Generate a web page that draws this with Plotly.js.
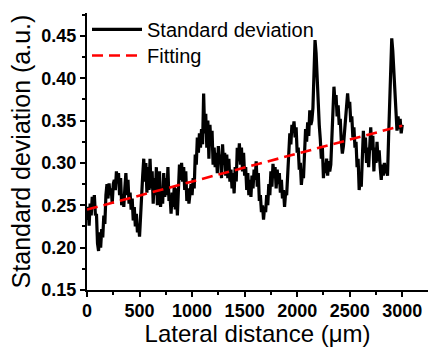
<!DOCTYPE html>
<html>
<head>
<meta charset="utf-8">
<script src="https://cdn.plot.ly/plotly-3.0.1.min.js"></script>
<style>html,body{margin:0;padding:0;background:#fff;}#chart{width:428px;height:347px;}</style>
</head>
<body>
<div id="chart"></div>
<script>
// Lateral distance (µm), sampled every 10 µm
const distance = [];
for (let i = 0; i <= 300; i++) distance.push(i * 10);

// Standard deviation values (a.u.)
const stdDev = [
0.232,0.248,0.226,0.252,0.238,0.260,0.250,0.262,0.238,0.240,
0.205,0.196,0.218,0.200,0.222,0.212,0.238,0.228,0.262,0.275,
0.258,0.276,0.262,0.270,0.252,0.275,0.280,0.268,0.290,0.276,
0.288,0.262,0.282,0.250,0.262,0.248,0.270,0.288,0.262,0.280,
0.252,0.265,0.245,0.258,0.232,0.248,0.225,0.240,0.218,0.228,
0.213,0.245,0.262,0.285,0.305,0.278,0.300,0.265,0.295,0.268,
0.305,0.270,0.290,0.252,0.282,0.262,0.295,0.250,0.278,0.290,
0.248,0.265,0.252,0.288,0.260,0.282,0.262,0.295,0.255,0.262,
0.240,0.265,0.248,0.272,0.245,0.270,0.238,0.268,0.298,0.280,
0.300,0.278,0.295,0.268,0.290,0.255,0.270,0.252,0.262,0.275,
0.262,0.282,0.270,0.310,0.298,0.330,0.312,0.335,0.318,0.340,
0.322,0.382,0.335,0.358,0.318,0.350,0.305,0.345,0.320,0.338,
0.298,0.318,0.295,0.312,0.288,0.320,0.300,0.310,0.282,0.322,
0.298,0.312,0.285,0.310,0.282,0.305,0.278,0.292,0.270,0.288,
0.264,0.295,0.278,0.318,0.302,0.323,0.298,0.318,0.290,0.312,
0.285,0.295,0.268,0.288,0.262,0.280,0.260,0.285,0.270,0.292,
0.280,0.302,0.272,0.288,0.255,0.262,0.242,0.250,0.233,0.248,
0.242,0.262,0.250,0.275,0.262,0.290,0.272,0.299,0.282,0.295,
0.270,0.292,0.275,0.288,0.265,0.280,0.258,0.268,0.248,0.265,
0.262,0.292,0.310,0.335,0.322,0.345,0.338,0.349,0.330,0.342,
0.312,0.318,0.292,0.300,0.274,0.288,0.282,0.320,0.340,0.325,
0.348,0.332,0.362,0.345,0.350,0.365,0.410,0.445,0.430,0.395,
0.375,0.345,0.328,0.305,0.318,0.282,0.300,0.288,0.305,0.285,
0.302,0.290,0.298,0.328,0.365,0.390,0.372,0.380,0.355,0.368,
0.345,0.352,0.325,0.311,0.320,0.335,0.358,0.370,0.382,0.365,
0.372,0.348,0.355,0.330,0.342,0.318,0.325,0.295,0.305,0.268,
0.280,0.272,0.305,0.338,0.312,0.330,0.300,0.318,0.295,0.322,
0.342,0.315,0.332,0.290,0.318,0.300,0.325,0.302,0.315,0.295,
0.280,0.298,0.285,0.300,0.288,0.292,0.285,0.330,0.380,0.425,
0.447,0.432,0.408,0.378,0.352,0.338,0.355,0.340,0.352,0.335,
0.345
];

// Linear fitting line end points
const fitX = [0, 3000];
const fitY = [0.245, 0.344];

const seriesNames = ['Standard deviation', 'Fitting'];

const FAMILY = 'Liberation Sans, Arial, sans-serif';
const tickFont = {family: FAMILY, size: 18, color: '#000', weight: 'bold'};
const legendFont = {family: FAMILY, size: 20, color: '#000'};

const traces = [
  {x: distance, y: stdDev, type: 'scatter', mode: 'lines', name: seriesNames[0],
   legend: 'legend', line: {color: '#000', width: 3.2}},
  {x: fitX, y: fitY, type: 'scatter', mode: 'lines', name: seriesNames[1],
   legend: 'legend2', line: {color: '#ff0000', width: 2.6, dash: '11px,6px'}}
];

const layout = {
  width: 428, height: 347,
  margin: {l: 87, r: 0, t: 13, b: 57},
  paper_bgcolor: '#fff', plot_bgcolor: '#fff',
  showlegend: true,
  legend: {x: 0.0, y: 1.011, xanchor: 'left', yanchor: 'top', bgcolor: 'rgba(0,0,0,0)',
           font: legendFont, itemwidth: 50},
  legend2: {x: 0.0, y: 0.917, xanchor: 'left', yanchor: 'top', bgcolor: 'rgba(0,0,0,0)',
           font: legendFont, itemwidth: 50},
  xaxis: {
    range: [0, 3245], tickmode: 'linear', tick0: 0, dtick: 500,
    showline: true, linecolor: '#000', linewidth: 2, mirror: false,
    ticks: 'outside', ticklen: 5, tickwidth: 2, tickcolor: '#000',
    minor: {dtick: 250, ticks: 'outside', ticklen: 3, tickwidth: 2, tickcolor: '#000', showgrid: false},
    showgrid: false, zeroline: false, tickfont: tickFont, ticklabelstandoff: -2,
    automargin: false,
    title: {text: 'Lateral distance (μm)', font: {family: FAMILY, size: 24, color: '#000'}, standoff: 12}
  },
  yaxis: {
    range: [0.15, 0.477], tickmode: 'linear', tick0: 0.15, dtick: 0.05, tickformat: '.2f',
    showline: true, linecolor: '#000', linewidth: 2, mirror: false,
    ticks: 'outside', ticklen: 5, tickwidth: 2, tickcolor: '#000',
    minor: {dtick: 0.025, ticks: 'outside', ticklen: 3, tickwidth: 2, tickcolor: '#000', showgrid: false},
    showgrid: false, zeroline: false, tickfont: tickFont,
    automargin: false,
    title: {text: 'Standard deviation (a.u.)', font: {family: FAMILY, size: 25, color: '#000'}, standoff: 4}
  }
};

Plotly.newPlot('chart', traces, layout, {displayModeBar: false, staticPlot: true});
</script>
</body>
</html>
